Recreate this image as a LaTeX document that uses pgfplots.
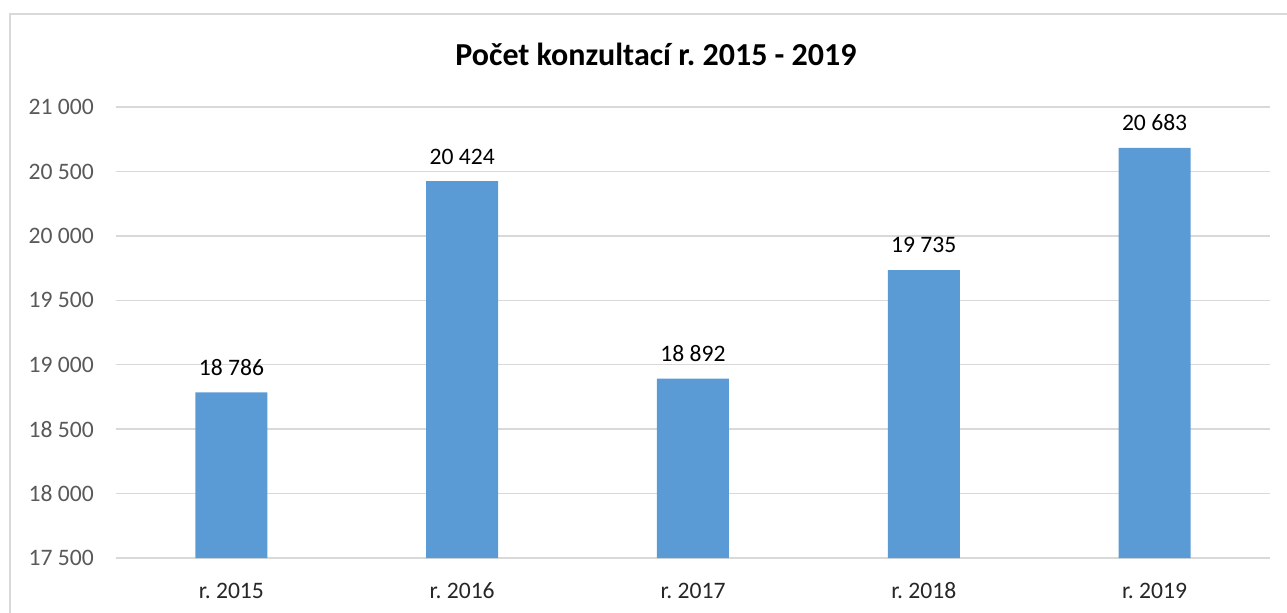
\documentclass[border=0pt]{standalone}
\usepackage{pgfplots}
\pgfplotsset{compat=1.18}
\usepackage{pgfplotstable}
\usepackage{fontspec}
\setmainfont{Carlito}
\frenchspacing
\definecolor{barblue}{HTML}{5B9BD5}
\definecolor{gridgray}{HTML}{D9D9D9}
\definecolor{ticktext}{HTML}{595959}
\pgfplotstableread{
x y lab
0 18786 18~786
1 20424 20~424
2 18892 18~892
3 19735 19~735
4 20683 20~683
}\datatable
\begin{document}
\frenchspacing
\begin{tikzpicture}
\path[use as bounding box] (0,0) rectangle (643.5pt,306pt);
\draw[gridgray, line width=1pt] (5pt,-10pt) -- (5pt,299pt) -- (660pt,299pt);
\node[anchor=base, font=\fontsize{16}{19}\selectfont\bfseries] at (328pt,273.2pt) {Počet konzultací r. 2015 - 2019};
\begin{axis}[
  at={(58pt,27pt)}, anchor=south west,
  scale only axis, width=577pt, height=225.5pt,
  xmin=-0.5, xmax=4.5, ymin=17500, ymax=21000,
  scaled y ticks=false,
  xtick={0,1,2,3,4},
  xticklabels={r. 2015, r. 2016, r. 2017, r. 2018, r. 2019},
  ytick={17500,18000,18500,19000,19500,20000,20500,21000},
  yticklabels={17~500,18~000,18~500,19~000,19~500,20~000,20~500,21~000},
  ymajorgrids, major grid style={gridgray, line width=0.75pt},
  axis line style={draw=none}, tick style={draw=none},
  xticklabel style={font=\fontsize{11.8}{14}\selectfont, text=black!85, text height=8pt, text depth=0pt, anchor=north, yshift=-4.5pt},
  yticklabel style={font=\fontsize{11.8}{14}\selectfont, text=ticktext, xshift=-7.6pt},
  ybar, bar width=36pt,
  nodes near coords, point meta=explicit symbolic,
  every node near coord/.append style={font=\fontsize{11.8}{14}\selectfont, text=black, text height=8pt, text depth=0pt, yshift=5pt},
]
\addplot[fill=barblue, draw=none] table[x=x, y=y, meta=lab] {\datatable};
\end{axis}
\end{tikzpicture}
\end{document}
